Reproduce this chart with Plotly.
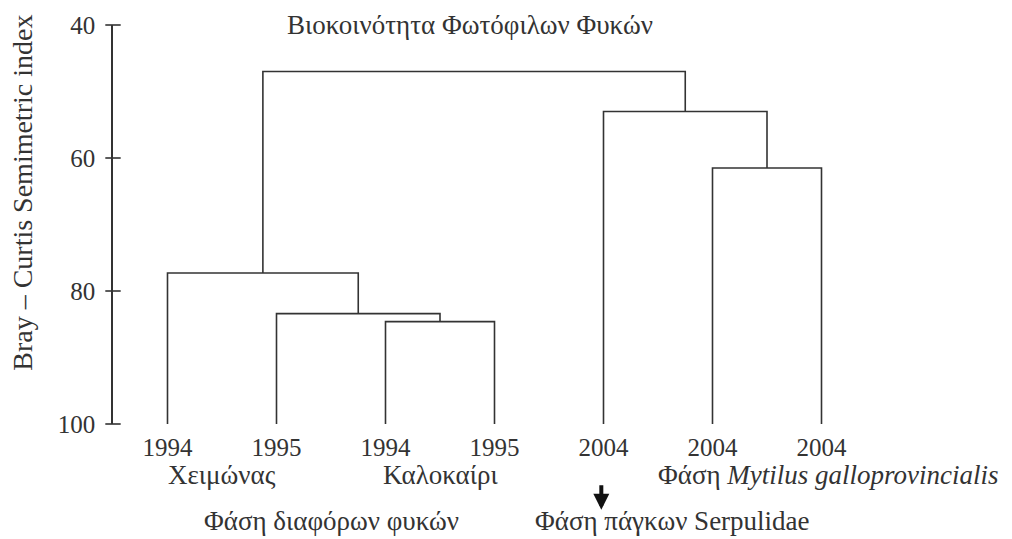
import plotly.graph_objects as go

# Leaf labels (sampling years) along the bottom of the dendrogram
leaf_labels = ["1994", "1995", "1994", "1995", "2004", "2004", "2004"]

# Cluster joins: (left member, right member, Bray-Curtis similarity level)
# Members are leaf indices (int) or names of earlier joins (str).
join_names = ["A", "B", "C", "D", "E", "F"]
join_left = [2, 1, 0, 5, 4, "C"]
join_right = [3, "A", "B", 6, "D", "E"]
join_level = [84.6, 83.4, 77.3, 61.5, 53.0, 47.0]

y_ticks = [40, 60, 80, 100]

FONT = "Liberation Serif, Times New Roman, serif"
INK = "#333333"

pos = {}
lvl = {}
for i in range(len(leaf_labels)):
    pos[i] = float(i)
    lvl[i] = 100.0

fig = go.Figure()
for name, a, b, h in zip(join_names, join_left, join_right, join_level):
    xa, xb = pos[a], pos[b]
    fig.add_trace(go.Scatter(
        x=[xa, xa, xb, xb], y=[lvl[a], h, h, lvl[b]],
        mode="lines", line=dict(color=INK, width=1.6),
        hoverinfo="skip", showlegend=False))
    pos[name] = (xa + xb) / 2
    lvl[name] = h

# tick marks crossing the similarity axis
fig.add_trace(go.Scatter(
    x=[-0.5] * len(y_ticks), y=y_ticks, mode="markers",
    marker=dict(symbol="line-ew", size=11,
                line=dict(color=INK, width=1.6)),
    cliponaxis=False, hoverinfo="skip", showlegend=False))

fig.update_layout(
    width=1012, height=539,
    margin=dict(l=113, r=136, t=23, b=115),
    paper_bgcolor="white", plot_bgcolor="white",
    font=dict(family=FONT, color=INK, size=25),
    xaxis=dict(range=[-0.5, 6.5], tickvals=list(range(len(leaf_labels))),
               ticktext=leaf_labels, showgrid=False, zeroline=False,
               showline=False, ticks="", ticklabelstandoff=6,
               tickfont=dict(size=25, family=FONT, color=INK)),
    yaxis=dict(range=[100, 40], tickvals=y_ticks, showgrid=False,
               zeroline=False, showline=True, linecolor=INK, linewidth=1.6,
               ticks="", ticklabelstandoff=11,
               tickfont=dict(size=25, family=FONT, color=INK)),
)

ann = [
    dict(text="Bray – Curtis Semimetric index", textangle=-90,
         xref="paper", yref="paper", x=-0.119, y=0.58,
         xanchor="center", yanchor="middle", font=dict(size=28)),
    dict(text="Βιοκοινότητα Φωτόφιλων Φυκών", xref="paper", yref="paper",
         x=0.468, y=1.0, xanchor="center", yanchor="middle",
         font=dict(size=27)),
    dict(text="Χειμώνας", xref="x", yref="paper", x=0.5, y=-0.127,
         xanchor="center", yanchor="middle", font=dict(size=27)),
    dict(text="Καλοκαίρι", xref="x", yref="paper", x=2.5, y=-0.127,
         xanchor="center", yanchor="middle", font=dict(size=27)),
    dict(text="Φάση διαφόρων φυκών", xref="x", yref="paper", x=1.5,
         y=-0.244, xanchor="center", yanchor="middle", font=dict(size=27)),
    dict(text="Φάση πάγκων Serpulidae", xref="x", yref="paper", x=3.35,
         y=-0.244, xanchor="left", yanchor="middle", font=dict(size=27)),
    dict(text="Φάση <i>Mytilus galloprovincialis</i>", xref="x",
         yref="paper", x=4.48, y=-0.127, xanchor="left", yanchor="middle",
         font=dict(size=27)),
    dict(text="", xref="x", yref="paper", x=3.98, y=-0.215, showarrow=True,
         arrowhead=2, arrowsize=0.8, arrowwidth=4, arrowcolor="#111111",
         ax=0, ay=-26, standoff=0),
]
for a in ann:
    a.setdefault("showarrow", False)
    fig.add_annotation(**a)

fig.write_html("out.html")
